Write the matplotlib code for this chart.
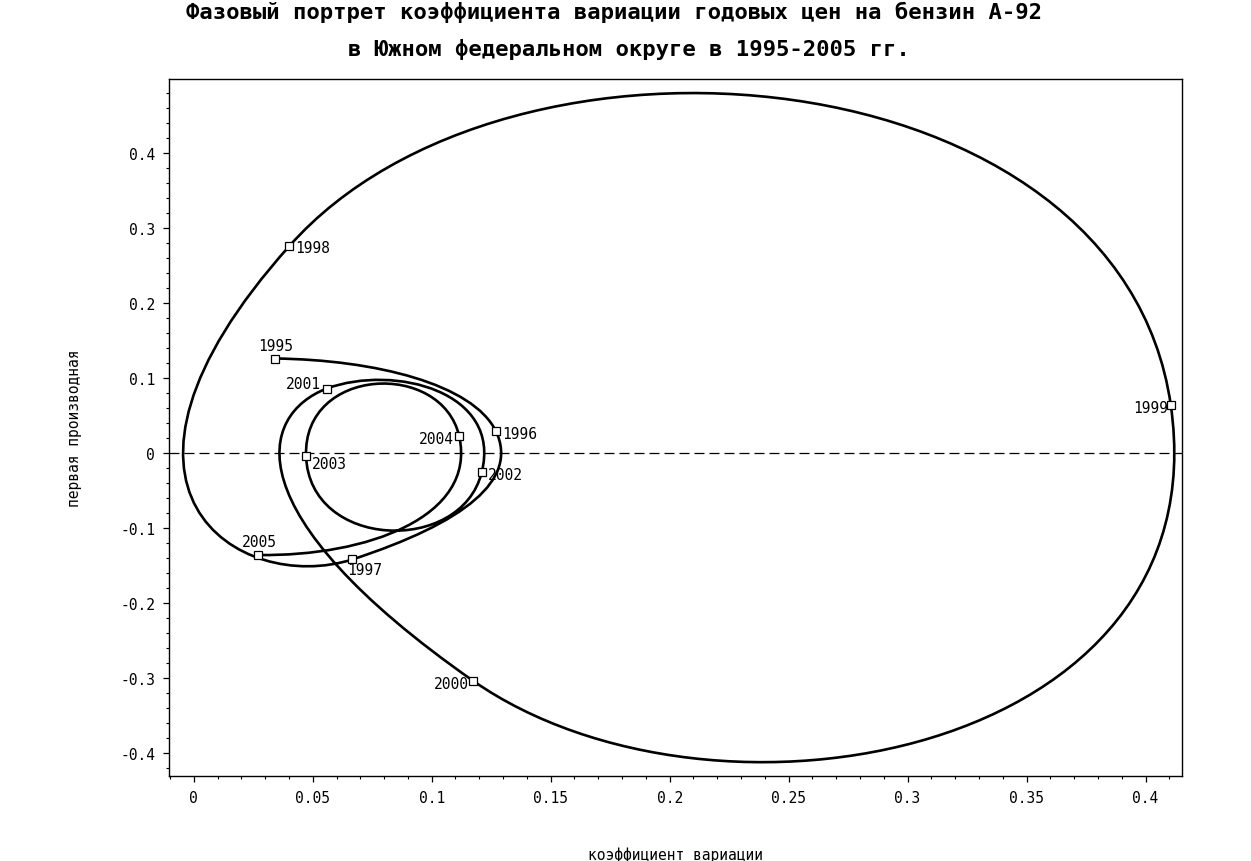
import matplotlib
matplotlib.use('Agg')
import matplotlib.pyplot as plt
from matplotlib.path import Path
from matplotlib.patches import PathPatch
from matplotlib.ticker import MultipleLocator, FormatStrFormatter

years = [1995, 1996, 1997, 1998, 1999, 2000, 2001, 2002, 2003, 2004, 2005]
# coefficient of variation and its first derivative
cv = [0.0342, 0.1270, 0.0666, 0.0402, 0.4106, 0.1175, 0.0559, 0.1210, 0.0472, 0.1116, 0.0272]
deriv = [0.126, 0.029, -0.142, 0.276, 0.064, -0.304, 0.086, -0.026, -0.004, 0.022, -0.136]

title1 = 'Фазовый портрет коэффициента вариации годовых цен на бензин А-92'
title2 = 'в Южном федеральном округе в 1995-2005 гг.'
xlabel = 'коэффициент вариации'
ylabel = 'первая производная'

# label placement: (dx px, dy px, ha, va)
label_pos = {
    1995: (1, 6, 'center', 'bottom'),
    1996: (6, -2, 'left', 'center'),
    1997: (12, -10, 'center', 'center'),
    1998: (6, -1, 'left', 'center'),
    1999: (-3, -2, 'right', 'center'),
    2000: (-4, -3, 'right', 'center'),
    2001: (-6, 5, 'right', 'center'),
    2002: (6, -2, 'left', 'center'),
    2003: (6, -8, 'left', 'center'),
    2004: (-5, -2, 'right', 'center'),
    2005: (1, 6, 'center', 'bottom'),
}

plt.rcParams['axes.unicode_minus'] = False
mono = 'DejaVu Sans Mono'

fig = plt.figure(figsize=(12.51, 8.62), dpi=100)
ax = fig.add_axes([0.1351, 0.0986, 0.8097, 0.8086])

# phase curve: x(t) cubic between years with slopes = derivative, y(t) = x'(t)
verts = [(cv[0], deriv[0])]
codes = [Path.MOVETO]
for i in range(len(years) - 1):
    x0, x1 = cv[i], cv[i + 1]
    m0, m1 = deriv[i], deriv[i + 1]
    q1 = 3 * (x1 - x0) - m0 - m1
    verts += [(x0 + m0 / 3, (m0 + 2 * q1) / 3),
              (x1 - m1 / 3, (2 * q1 + m1) / 3),
              (x1, m1)]
    codes += [Path.CURVE4] * 3
ax.add_patch(PathPatch(Path(verts, codes), fill=False, lw=1.9, color='black',
                       capstyle='round', joinstyle='round'))

ax.axhline(0, color='black', lw=0.9, linestyle=(0, (8, 4)))

ax.plot(cv, deriv, linestyle='none', marker='s', ms=5.5, mfc='white',
        mec='black', mew=0.9, zorder=3)
for yr, x, y in zip(years, cv, deriv):
    dx, dy, ha, va = label_pos[yr]
    ax.annotate(str(yr), (x, y), xytext=(dx, dy), textcoords='offset pixels',
                ha=ha, va=va, fontsize=10.5, family=mono)

ax.set_xlim(-0.0104, 0.4153)
ax.set_ylim(-0.4307, 0.4987)
ax.xaxis.set_major_locator(MultipleLocator(0.05))
ax.xaxis.set_minor_locator(MultipleLocator(0.01))
ax.yaxis.set_major_locator(MultipleLocator(0.1))
ax.yaxis.set_minor_locator(MultipleLocator(0.02))
ax.xaxis.set_major_formatter(FormatStrFormatter('%g'))
ax.yaxis.set_major_formatter(FormatStrFormatter('%g'))
ax.tick_params(which='major', direction='out', length=4, width=0.9,
               labelsize=10.5, pad=6)
ax.tick_params(which='minor', direction='out', length=2, width=0.8)
for lab in ax.get_xticklabels() + ax.get_yticklabels():
    lab.set_family(mono)
for sp in ax.spines.values():
    sp.set_linewidth(1.0)

fig.text(0.491, 0.986, title1, ha='center', va='center', fontsize=16,
         family=mono, fontweight='bold')
fig.text(0.503, 0.943, title2, ha='center', va='center', fontsize=16,
         family=mono, fontweight='bold')
fig.text(675.5 / 1251, 1 - 855 / 862, xlabel, ha='center', va='center',
         fontsize=10.5, family=mono)
fig.text(75 / 1251, 1 - 428 / 862, ylabel, ha='center', va='center',
         fontsize=10.5, family=mono, rotation=90)

fig.savefig('out.png', dpi=100)
